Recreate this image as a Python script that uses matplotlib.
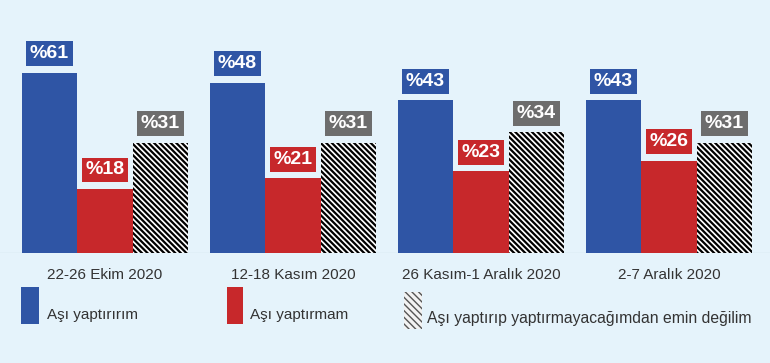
import matplotlib
matplotlib.use("Agg")
import matplotlib.pyplot as plt
from matplotlib.patches import Rectangle
import numpy as np

categories = ["22-26 Ekim 2020", "12-18 Kasım 2020", "26 Kasım-1 Aralık 2020", "2-7 Aralık 2020"]
series_names = ["Aşı yaptırırım", "Aşı yaptırmam", "Aşı yaptırıp yaptırmayacağımdan emin değilim"]
yaptiririm = [61, 48, 43, 43]
yaptirmam = [18, 21, 23, 26]
emin_degilim = [31, 31, 34, 31]

BG = "#e5f3fb"
BLUE = "#2f55a5"
RED = "#c7282b"
GRAY = "#6d6d6d"
TXT = "#333333"

W, H = 770, 363
fig = plt.figure(figsize=(W / 100, H / 100), dpi=100, facecolor=BG)

def fx(px):
    return px / W

def fy(py):
    return 1 - py / H

base_px, top_px = 253, 73
ax = fig.add_axes([0, fy(base_px), 1, (base_px - top_px) / H])
ax.set_facecolor(BG)
ymax = (base_px - top_px) / 3.55
ax.set_ylim(0, ymax)
ax.set_xlim(-105 / 188, (W - 105) / 188)
for s in ax.spines.values():
    s.set_visible(False)
ax.set_xticks([])
ax.set_yticks([])
ax.axhline(0, color="#cfdfe8", lw=1.0, zorder=1)

x = np.arange(len(categories))
bw = 55.5 / 188

label_font = ["Liberation Sans", "DejaVu Sans"]
plain_font = ["Liberation Sans", "DejaVu Sans"]

plt.rcParams["hatch.linewidth"] = 1.6
ax.bar(x - bw, yaptiririm, bw, color=BLUE, linewidth=0, zorder=2)
ax.bar(x, yaptirmam, bw, color=RED, linewidth=0, zorder=2)
ax.bar(x + bw, emin_degilim, bw, color="white", edgecolor="black", hatch="\\\\\\\\\\\\",
       linewidth=0, zorder=2)

def add_labels(offset, vals, col):
    for xi, v in zip(x, vals):
        yv = min(v, ymax)
        ax.annotate(f"%{v}", (xi + offset, yv), xytext=(0, 13.8), textcoords="offset points",
                    ha="center", va="center", color="white", fontsize=14, fontweight="bold",
                    family=label_font, clip_on=False, annotation_clip=False,
                    bbox=dict(boxstyle="square,pad=0.2", fc=col, ec="none"), zorder=5)

add_labels(-bw, yaptiririm, BLUE)
add_labels(0, yaptirmam, RED)
add_labels(bw, emin_degilim, GRAY)

for xi, c in zip(x, categories):
    ax.text(xi, -22 / 3.55, c, ha="center", va="center", fontsize=11, color=TXT,
            family=plain_font, clip_on=False)

# legend
def patch(x0, y0, x1, y1, **kw):
    r = Rectangle((fx(x0), fy(y1)), fx(x1) - fx(x0), fy(y0) - fy(y1), transform=fig.transFigure, **kw)
    fig.add_artist(r)
    return r

patch(21, 287, 39, 324, facecolor=BLUE, linewidth=0)
fig.text(fx(47), fy(315), series_names[0], ha="left", va="center", fontsize=11, color=TXT, family=plain_font)
patch(227, 287, 243, 324, facecolor=RED, linewidth=0)
fig.text(fx(250), fy(315), series_names[1], ha="left", va="center", fontsize=11, color=TXT, family=plain_font)
plt.rcParams["hatch.linewidth"] = 1.0
hp = patch(404, 292, 422, 329, facecolor="#f2f2f2", edgecolor="#555555", hatch="\\\\\\\\\\", linewidth=0)
fig.text(fx(427), fy(319), series_names[2], ha="left", va="center", fontsize=11.3, color=TXT, family=plain_font)

fig.savefig("out.png", dpi=100, facecolor=BG)
